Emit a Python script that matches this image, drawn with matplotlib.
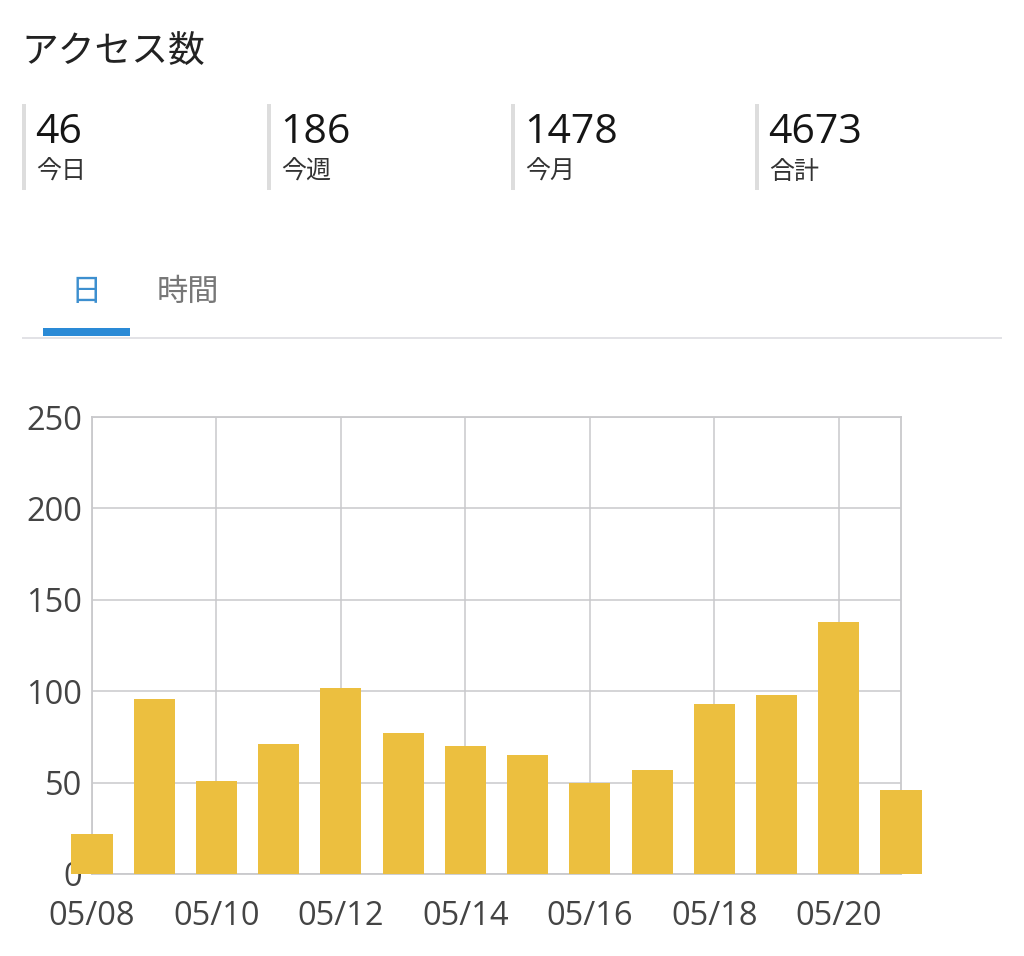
import matplotlib
matplotlib.use("Agg")
import matplotlib.pyplot as plt
from matplotlib.patches import Rectangle

# -----------------------------
# Data
# -----------------------------
dates = ["05/08", "05/09", "05/10", "05/11", "05/12", "05/13", "05/14",
         "05/15", "05/16", "05/17", "05/18", "05/19", "05/20", "05/21"]
visits = [22, 96, 51, 71, 102, 77, 70, 65, 50, 57, 93, 98, 138, 46]

stat_values = ["46", "186", "1478", "4673"]
stat_labels = ["今日", "今週", "今月", "合計"]
tab_labels = ["日", "時間"]
title = "アクセス数"
y_ticks = [0, 50, 100, 150, 200, 250]

# -----------------------------
# Style
# -----------------------------
W, H = 1024, 956
JP = ["Noto Sans CJK JP", "DejaVu Sans"]
NUM = ["Open Sans", "Noto Sans CJK JP"]
BAR = "#ECBF3F"
GRID = "#c9c9cc"
TICK = "#444444"

def fx(x):
    return x / W

def fy(y):
    return 1 - y / H

fig = plt.figure(figsize=(W / 100, H / 100), dpi=100)
fig.patch.set_facecolor("white")

# header
fig.text(fx(21), fy(51), title, family=JP, fontsize=26.5, color="#222222",
         va="center", ha="left")

box_x = [22, 267, 511, 755]
for x0, val, lab in zip(box_x, stat_values, stat_labels):
    fig.add_artist(Rectangle((fx(x0), fy(190)), fx(4), (190 - 104) / H,
                             transform=fig.transFigure, color="#dddddd", lw=0))
    fig.text(fx(x0 + 13), fy(143), val, family=NUM, fontsize=29.5,
             color="#151515", va="baseline", ha="left")
    fig.text(fx(x0 + 14), fy(172), lab, family=JP, fontsize=18,
             color="#333333", va="center", ha="left")

# tabs
fig.text(fx(86), fy(292), tab_labels[0], family=JP, fontsize=22.5,
         color="#3d8fcf", va="center", ha="center")
fig.text(fx(188), fy(292), tab_labels[1], family=JP, fontsize=22.5,
         color="#777777", va="center", ha="center")
fig.add_artist(Rectangle((fx(22), fy(339)), fx(980), 2.5 / H,
                         transform=fig.transFigure, color="#e2e2e6", lw=0))
fig.add_artist(Rectangle((fx(43), fy(336)), fx(87), 8 / H,
                         transform=fig.transFigure, color="#2a8ad6", lw=0))

# -----------------------------
# Chart
# -----------------------------
ax = fig.add_axes([fx(92), fy(874), fx(901) - fx(92), (874 - 417) / H])
x = list(range(len(dates)))
ax.bar(x, visits, width=0.66, color=BAR, zorder=3, clip_on=False)

ax.set_xlim(0, len(dates) - 1)
ax.set_ylim(0, 250)
ax.set_yticks(y_ticks)
ax.set_xticks(x[::2])
ax.set_xticklabels(dates[::2])
ax.grid(True, color=GRID, lw=1.1, zorder=0)
ax.set_axisbelow(True)
for sp in ax.spines.values():
    sp.set_color(GRID)
    sp.set_linewidth(1.3)
ax.tick_params(length=0, colors=TICK, labelsize=23.5)
ax.tick_params(axis="y", pad=7)
ax.tick_params(axis="x", pad=18.5)
for t in ax.get_xticklabels() + ax.get_yticklabels():
    t.set_family(NUM)

fig.savefig("out.png", dpi=100, facecolor="white")
